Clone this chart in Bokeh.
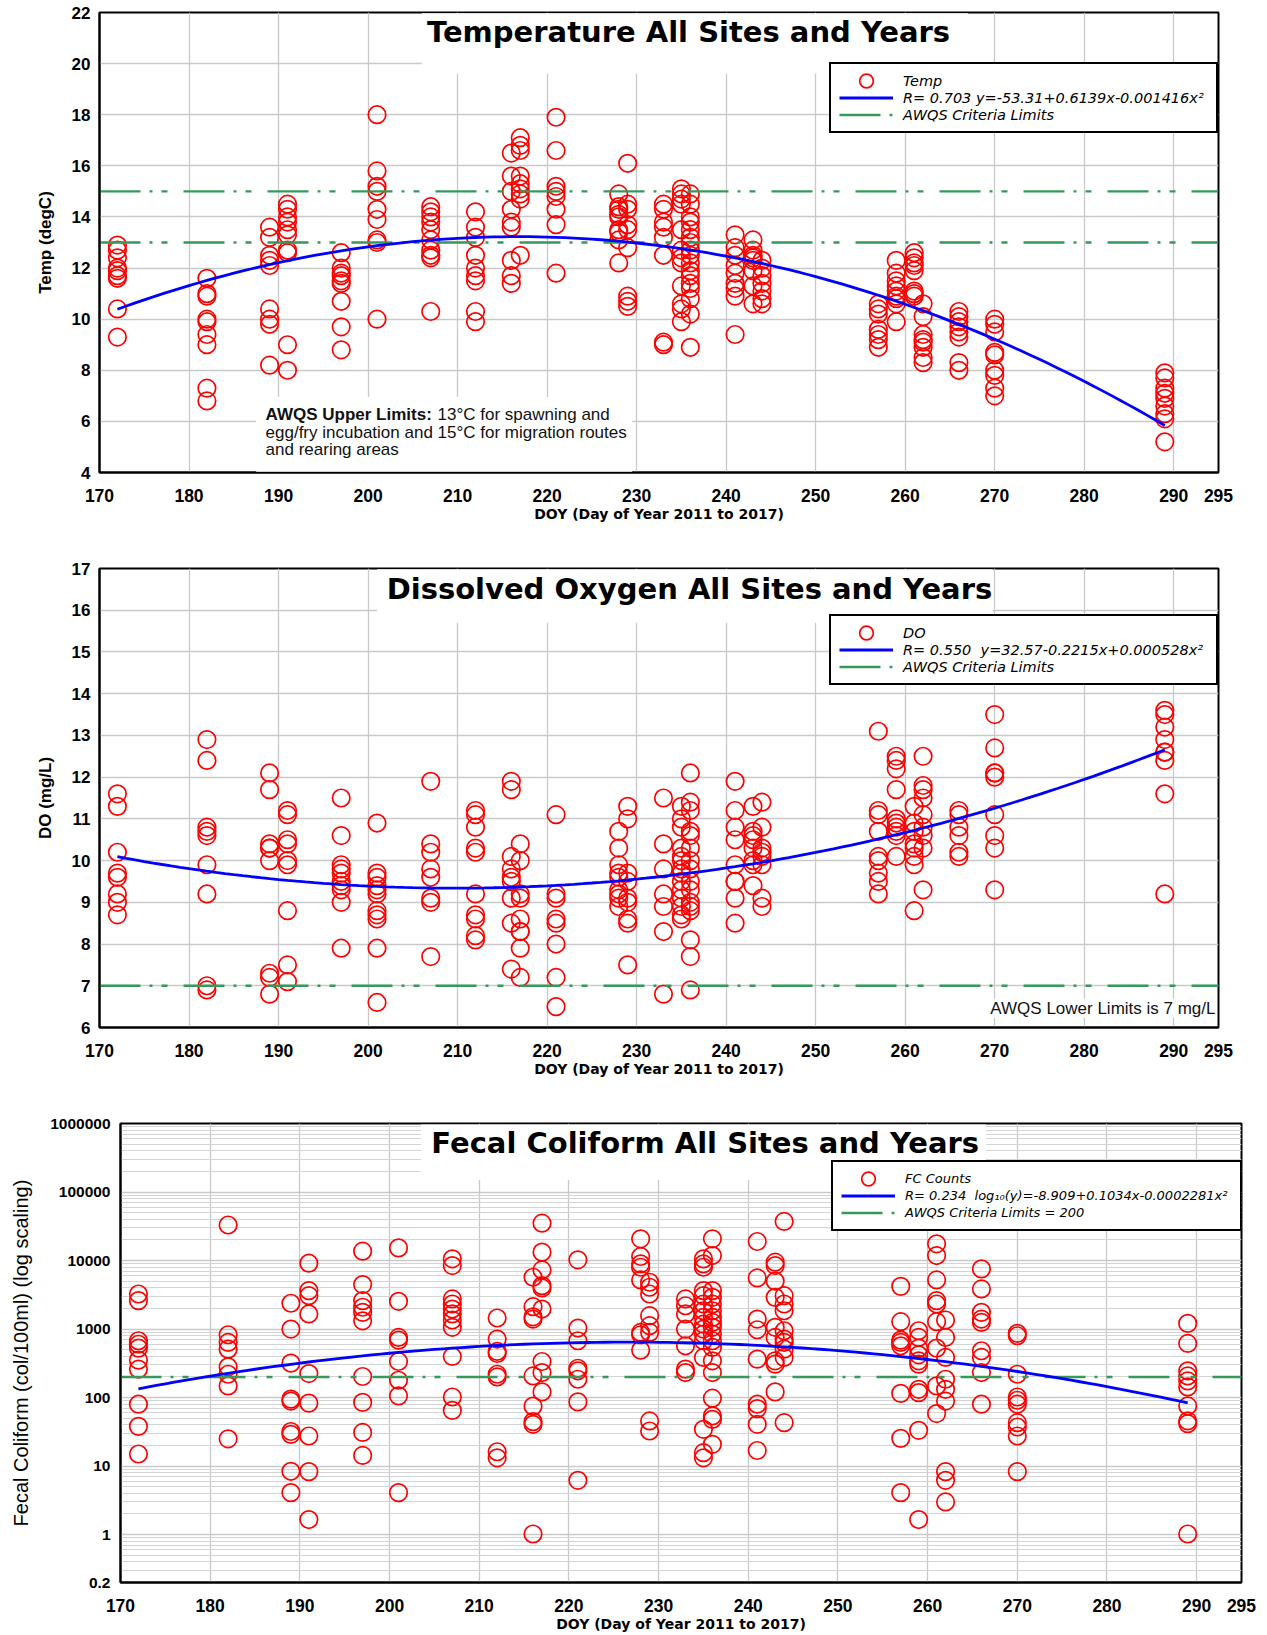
import numpy as np
from bokeh.plotting import figure
from bokeh.models import (Range1d, FixedTicker, Label, BoxAnnotation, Legend,
                          LegendItem, ColumnDataSource, CustomJSTickFormatter)
from bokeh.embed import file_html
from bokeh.resources import INLINE

# ---------------- data ----------------
DAYS = [172, 182, 189, 191, 197, 201, 207, 212, 216, 217, 221, 228, 229,
        233, 235, 236, 241, 243, 244, 257, 259, 261, 262, 266, 270, 289]

TEMP_VALUES = [
    [12.9, 12.7, 12.4, 12.0, 11.9, 11.7, 11.6, 10.4, 9.3],
    [11.6, 11.0, 10.9, 10.0, 9.9, 9.4, 9.0, 7.3, 6.8],
    [13.6, 13.2, 12.5, 12.3, 12.1, 10.4, 10.0, 9.8, 8.2],
    [14.5, 14.3, 14.0, 13.8, 13.5, 13.3, 12.7, 12.6, 9.0, 8.0],
    [12.6, 12.0, 11.8, 11.7, 11.5, 11.4, 10.7, 9.7, 8.8],
    [18.0, 15.8, 15.2, 15.0, 14.3, 13.9, 13.1, 13.0, 10.0],
    [14.4, 14.2, 14.0, 13.8, 13.5, 13.1, 12.7, 12.5, 12.4, 10.3],
    [14.2, 13.6, 13.2, 12.5, 12.0, 11.7, 11.5, 10.3, 9.9],
    [16.5, 15.6, 15.0, 14.3, 13.8, 13.6, 12.3, 11.7, 11.4],
    [17.1, 16.8, 16.6, 15.6, 15.3, 15.1, 14.9, 14.7, 12.5],
    [17.9, 16.6, 15.2, 15.0, 14.8, 14.3, 13.7, 11.8],
    [14.9, 14.4, 14.3, 14.1, 14.0, 13.5, 13.4, 13.1, 12.2],
    [16.1, 14.5, 14.3, 13.7, 13.5, 12.8, 10.9, 10.7, 10.5],
    [14.5, 14.3, 13.8, 13.6, 13.2, 12.5, 9.1, 9.0],
    [15.1, 14.9, 14.7, 14.5, 13.5, 12.7, 12.4, 12.2, 11.3, 10.6, 10.4, 9.9],
    [14.9, 14.5, 14.0, 13.8, 13.5, 13.2, 13.0, 12.7, 12.5, 12.2, 11.9, 11.7,
     11.4, 11.2, 10.8, 10.2, 8.9],
    [13.3, 12.8, 12.5, 12.1, 11.8, 11.4, 11.2, 10.9, 9.4],
    [13.1, 12.7, 12.5, 12.4, 12.3, 11.9, 11.3, 10.6],
    [12.3, 12.0, 11.7, 11.4, 11.1, 10.8, 10.6],
    [10.6, 10.4, 10.2, 9.6, 9.4, 9.2, 8.9],
    [12.3, 11.8, 11.5, 11.3, 11.1, 10.9, 10.8, 10.6, 9.9],
    [12.6, 12.4, 12.2, 12.1, 11.9, 11.1, 11.0, 10.9],
    [10.6, 10.1, 9.4, 9.2, 9.1, 8.9, 8.5, 8.3],
    [10.3, 10.1, 9.9, 9.7, 9.5, 9.3, 8.3, 8.0],
    [10.0, 9.8, 9.5, 8.7, 8.6, 8.0, 7.8, 7.3, 7.0],
    [7.9, 7.7, 7.3, 7.1, 6.9, 6.6, 6.3, 6.1, 5.2],
]

DO_VALUES = [
    [11.6, 11.3, 10.2, 9.7, 9.6, 9.2, 9.0, 8.7],
    [12.9, 12.4, 10.8, 10.7, 10.6, 9.9, 9.2, 7.0, 6.9],
    [12.1, 11.7, 10.4, 10.3, 10.3, 10.0, 7.3, 7.2, 6.8],
    [11.2, 11.1, 10.5, 10.4, 10.0, 9.9, 8.8, 7.5, 7.1],
    [11.5, 10.6, 9.9, 9.8, 9.7, 9.5, 9.4, 9.3, 9.0, 7.9],
    [10.9, 9.7, 9.6, 9.4, 9.3, 9.2, 8.8, 8.7, 8.6, 7.9, 6.6],
    [11.9, 10.4, 10.2, 9.8, 9.6, 9.1, 9.0, 7.7],
    [11.2, 11.1, 10.8, 10.3, 10.2, 9.2, 8.7, 8.6, 8.2, 8.1],
    [11.9, 11.7, 10.1, 9.8, 9.6, 9.5, 9.1, 8.5, 7.4],
    [10.4, 10.0, 9.2, 9.1, 8.6, 8.3, 8.3, 7.9, 7.2],
    [11.1, 9.2, 9.1, 8.6, 8.5, 8.0, 7.2, 6.5],
    [10.7, 10.3, 9.9, 9.7, 9.6, 9.3, 9.2, 9.1, 8.9],
    [11.3, 11.0, 9.7, 9.5, 9.1, 9.0, 8.6, 8.5, 7.5],
    [11.5, 10.4, 9.8, 9.2, 8.9, 8.3, 6.8],
    [11.3, 11.0, 10.8, 10.3, 10.1, 10.0, 9.8, 9.7, 9.5, 9.3, 9.1, 8.9, 8.7, 8.6],
    [12.1, 11.4, 11.2, 10.7, 10.6, 10.3, 10.0, 9.8, 9.5, 9.3, 9.0, 8.9, 8.8,
     8.1, 7.7, 6.9],
    [11.9, 11.2, 10.8, 10.5, 9.9, 9.5, 9.5, 9.1, 8.5],
    [11.3, 10.7, 10.6, 10.5, 10.3, 10.0, 9.9, 9.4],
    [11.4, 10.8, 10.3, 10.2, 10.1, 9.9, 9.1, 8.9],
    [13.1, 11.2, 11.1, 10.7, 10.1, 10.0, 9.7, 9.5, 9.2],
    [12.5, 12.4, 12.2, 11.7, 11.0, 10.9, 10.8, 10.7, 10.6, 10.1],
    [11.3, 10.9, 10.7, 10.4, 10.3, 10.1, 9.9, 8.8],
    [12.5, 11.8, 11.7, 11.5, 11.1, 10.8, 10.6, 10.3, 9.3],
    [11.2, 11.1, 10.8, 10.6, 10.2, 10.1],
    [13.5, 12.7, 12.1, 12.1, 12.0, 11.1, 10.6, 10.3, 9.3],
    [13.6, 13.5, 13.2, 12.9, 12.6, 12.6, 12.4, 11.6, 9.2],
]

FC_VALUES = [
    [3250, 2600, 675, 600, 527, 352, 260, 80, 38, 15],
    [33000, 826, 638, 510, 281, 219, 148, 25],
    [2380, 1000, 318, 95, 89, 32, 29, 8.4, 4.1],
    [9140, 3640, 3070, 1660, 224, 83, 27.5, 8.3, 1.66],
    [13700, 4460, 2600, 2080, 1750, 1320, 203, 85, 31, 14.3],
    [15300, 2540, 755, 690, 336, 179, 106, 4.1],
    [10600, 8450, 2750, 2320, 1960, 1660, 1355, 1060, 398, 102, 65],
    [1450, 714, 471, 440, 219, 200, 16.2, 13.2],
    [5700, 2120, 1510, 1400, 207, 75, 44.6, 40.7, 1.02],
    [35100, 13250, 7290, 4300, 3980, 1960, 336, 232, 121],
    [10240, 1035, 675, 268, 246, 185, 86.5, 6.2],
    [20750, 11450, 8940, 7980, 5210, 893, 826, 493],
    [4820, 4075, 3250, 1567, 1120, 893, 45.6, 32.5],
    [2750, 2190, 1660, 1000, 570, 260, 232],
    [10570, 8940, 7980, 3640, 3070, 2320, 1850, 1480, 1180, 1000, 845, 675,
     385, 34.4, 15.7, 13.2],
    [20750, 11830, 3640, 2900, 2320, 1850, 1480, 1250, 1060, 845, 675, 540,
     344, 232, 98, 54, 48, 20.8],
    [18960, 5570, 1400, 977, 364, 80, 69, 40.7, 16.9],
    [9460, 8450, 4990, 2900, 1060, 755, 344, 308, 121],
    [37200, 3070, 2320, 1850, 945, 714, 638, 510, 385, 43],
    [4200, 1280, 690, 638, 570, 115, 25.4, 4.1],
    [945, 755, 527, 421, 344, 308, 132, 118, 33.3, 1.66],
    [17540, 11830, 5210, 2600, 2320, 1280, 527, 148, 58.4],
    [1355, 755, 385, 185, 132, 89, 8.3, 6.2, 3.0],
    [7550, 3850, 1750, 1400, 1250, 482, 385, 232, 80],
    [865, 798, 219, 102, 91.4, 80, 43, 37.2, 27.5, 8.3],
    [1210, 617, 246, 207, 175, 143, 75.5, 45.6, 41.7, 1.02],
]

# regression coefficients printed in the legends (c0 + c1*x + c2*x^2)
TEMP_FIT = [-53.31, 0.6139, -0.001416]
DO_FIT = [32.57, -0.2215, 0.000528]
FC_LOG10_FIT = [-8.909, 0.1034, -0.0002281]
FIT_SPAN = [172, 289]

TEMP_LIMITS = [13, 15]
DO_LIMITS = [7]
FC_LIMITS = [200]

X_TICKS = [170, 180, 190, 200, 210, 220, 230, 240, 250, 260, 270, 280, 290, 295]
X_GRID = [180, 190, 200, 210, 220, 230, 240, 250, 260, 270, 280, 290]
TEMP_TICKS = [4, 6, 8, 10, 12, 14, 16, 18, 20, 22]
DO_TICKS = [6, 7, 8, 9, 10, 11, 12, 13, 14, 15, 16, 17]
FC_TICKS = [0.2, 1, 10, 100, 1000, 10000, 100000, 1000000]
FC_MINOR = [m * 10.0 ** e for e in range(-1, 6) for m in range(2, 10)
            if 0.2 < m * 10.0 ** e < 1e6]

TITLES = ["Temperature All Sites and Years",
          "Dissolved Oxygen All Sites and Years",
          "Fecal Coliform All Sites and Years"]
X_LABEL = "DOY (Day of Year 2011 to 2017)"
Y_LABELS = ["Temp (degC)", "DO (mg/L)", "Fecal Coliform (col/100ml) (log scaling)"]
TEMP_LEGEND = ["Temp", "R= 0.703 y=-53.31+0.6139x-0.001416x\u00b2", "AWQS Criteria Limits"]
DO_LEGEND = ["DO", "R= 0.550  y=32.57-0.2215x+0.000528x\u00b2", "AWQS Criteria Limits"]
FC_LEGEND = ["FC Counts",
             "R= 0.234  log\u2081\u2080(y)=-8.909+0.1034x-0.0002281x\u00b2",
             "AWQS Criteria Limits = 200"]
TEMP_NOTE_BOLD = "AWQS Upper Limits:"
TEMP_NOTE = ["13\u00b0C for spawning and",
             "egg/fry incubation and 15\u00b0C for migration routes",
             "and rearing areas"]
DO_NOTE = "AWQS Lower Limits is 7 mg/L"

# ---------------- styling ----------------
RED = "#ff0000"
BLUE = "#0000ff"
GREEN = "#35995b"
GRID = "#c9c9c9"
DASH = "41 9 3 9 6 16"
W = 1267


def flatten(days, values):
    xs, ys = [], []
    for d, vals in zip(days, values):
        xs += [d] * len(vals)
        ys += list(vals)
    return xs, ys


def make_fig(height, y_range, left, right, top, bottom, log=False):
    kw = dict(y_axis_type="log") if log else {}
    p = figure(width=W, height=height, x_range=Range1d(X_TICKS[0], X_TICKS[-1]),
               y_range=y_range, output_backend="svg", toolbar_location=None,
               min_border_left=left, min_border_right=right,
               min_border_top=top, min_border_bottom=bottom, **kw)
    p.background_fill_color = "white"
    p.border_fill_color = "white"
    p.outline_line_color = "black"
    p.outline_line_width = 2
    p.outline_line_alpha = 1
    p.xaxis.ticker = FixedTicker(ticks=X_TICKS)
    p.xgrid.ticker = FixedTicker(ticks=X_GRID)
    for ax in (p.xaxis[0], p.yaxis[0]):
        ax.axis_line_color = "black"
        ax.axis_line_width = 2
        ax.major_tick_line_color = None
        ax.minor_tick_line_color = None
        ax.major_tick_out = 0
        ax.major_tick_in = 0
        ax.minor_tick_out = 0
        ax.minor_tick_in = 0
        ax.major_label_text_font = "Liberation Sans"
        ax.major_label_text_font_style = "bold"
        ax.major_label_text_color = "black"
        ax.axis_label_text_color = "black"
    xa = p.xaxis[0]
    xa.major_label_text_font_size = "17.5px"
    xa.major_label_standoff = 16
    xa.axis_label = X_LABEL
    xa.axis_label_text_font = "DejaVu Sans"
    xa.axis_label_text_font_style = "bold"
    xa.axis_label_text_font_size = "14px"
    xa.axis_label_standoff = 1
    p.xgrid.grid_line_color = GRID
    p.xgrid.grid_line_width = 1.3
    p.ygrid.grid_line_color = GRID
    p.ygrid.grid_line_width = 1.3
    return p


def style_y(p, ticker, label, font, style, size, label_size, standoff, label_standoff):
    p.yaxis.ticker = ticker
    ya = p.yaxis[0]
    ya.major_label_text_font_size = size
    ya.major_label_standoff = standoff
    ya.axis_label = label
    ya.axis_label_text_font = font
    ya.axis_label_text_font_style = style
    ya.axis_label_text_font_size = label_size
    ya.axis_label_standoff = label_standoff
    return ya


def add_points_fit_limits(p, ys_vals, fit_x, fit_y, limits):
    xs, ys = flatten(DAYS, ys_vals)
    src = ColumnDataSource(dict(x=xs, y=ys))
    r_pts = p.ellipse(x="x", y="y", width=17.5, height=17.5,
                      width_units="screen", height_units="screen",
                      source=src, fill_color=None, line_color=RED, line_width=1.7)
    r_lim = p.segment(x0=X_TICKS[0], x1=X_TICKS[-1], y0=limits, y1=limits,
                      line_color=GREEN, line_width=2.4, line_dash=DASH)
    r_fit = p.line(fit_x, fit_y, line_color=BLUE, line_width=2.8)
    return r_pts, r_fit, r_lim


def add_legend(p, renderers, labels, loc, font_size, row_h, label_w):
    items = [LegendItem(label=lab, renderers=[r]) for lab, r in zip(labels, renderers)]
    leg = Legend(items=items, location=loc, margin=0, padding=8, spacing=0,
                 glyph_width=54, glyph_height=row_h, label_height=row_h,
                 label_width=label_w, label_standoff=10,
                 border_line_color="black", border_line_width=2.5, border_line_alpha=1,
                 background_fill_color="white", background_fill_alpha=1,
                 label_text_font="DejaVu Sans", label_text_font_style="italic",
                 label_text_font_size=font_size, label_text_color="black")
    p.add_layout(leg)


def add_title(p, text, x, y, box):
    l, r, b, t = box
    p.add_layout(BoxAnnotation(left=l, right=r, bottom=b, top=t, fill_color="white",
                               fill_alpha=1, line_color=None))
    p.add_layout(Label(x=x, y=y, text=text, text_align="center",
                       text_baseline="alphabetic", text_font="DejaVu Sans",
                       text_font_style="bold", text_font_size="29px",
                       text_color="black"))


fit_x = np.linspace(FIT_SPAN[0], FIT_SPAN[1], 118)

# ---------------- panel 1: temperature ----------------
p1 = make_fig(540, Range1d(TEMP_TICKS[0], TEMP_TICKS[-1]), 99, W - 1218, 12, 68)
style_y(p1, FixedTicker(ticks=TEMP_TICKS), Y_LABELS[0], "Liberation Sans", "bold",
        "17px", "17px", 9, 14)
t_fit = TEMP_FIT[0] + TEMP_FIT[1] * fit_x + TEMP_FIT[2] * fit_x ** 2
rs = add_points_fit_limits(p1, TEMP_VALUES, fit_x, t_fit, TEMP_LIMITS)
add_title(p1, TITLES[0], 235.8, 21.22, (206, 267, 19.6, 21.97))
p1.add_layout(BoxAnnotation(left=187.5, right=229.5, bottom=4.03, top=6.95,
                            fill_color="white", fill_alpha=1, line_color=None))
note_ys = [6.28, 5.576, 4.891]
p1.add_layout(Label(x=188.55, y=note_ys[0], text=TEMP_NOTE_BOLD, text_baseline="alphabetic",
                    text_font="Liberation Sans", text_font_style="bold",
                    text_font_size="17px", text_color="#111111"))
p1.add_layout(Label(x=188.55, y=note_ys[0], x_offset=172, text=TEMP_NOTE[0],
                    text_baseline="alphabetic", text_font="Liberation Sans",
                    text_font_size="17px", text_color="#111111"))
for yy, txt in zip(note_ys[1:], TEMP_NOTE[1:]):
    p1.add_layout(Label(x=188.55, y=yy, text=txt, text_baseline="alphabetic",
                        text_font="Liberation Sans", text_font_size="17px",
                        text_color="#111111"))
add_legend(p1, rs, TEMP_LEGEND, (730, 339), "14.5px", 17, 305)

# ---------------- panel 2: dissolved oxygen ----------------
p2 = make_fig(550, Range1d(DO_TICKS[0], DO_TICKS[-1]), 99, W - 1218, 28, 63)
style_y(p2, FixedTicker(ticks=DO_TICKS), Y_LABELS[1], "Liberation Sans", "bold",
        "17px", "17px", 9, 14)
d_fit = DO_FIT[0] + DO_FIT[1] * fit_x + DO_FIT[2] * fit_x ** 2
rs = add_points_fit_limits(p2, DO_VALUES, fit_x, d_fit, DO_LIMITS)
add_title(p2, TITLES[1], 235.9, 16.51, (201, 269.8, 15.7, 16.98))
p2.add_layout(Label(x=X_TICKS[-1], y=6.46, x_offset=-3, text=DO_NOTE, text_align="right",
                    text_baseline="alphabetic", text_font="Liberation Sans",
                    text_font_size="17px", text_color="#111111",
                    background_fill_color="white", background_fill_alpha=1))
add_legend(p2, rs, DO_LEGEND, (730, 342), "14.5px", 17, 305)

# ---------------- panel 3: fecal coliform ----------------
p3 = make_fig(545, Range1d(FC_TICKS[0], FC_TICKS[-1]), 120, W - 1241, 33, 53, log=True)
ya = style_y(p3, FixedTicker(ticks=FC_TICKS, minor_ticks=FC_MINOR), Y_LABELS[2],
             "Liberation Sans", "normal", "15.5px", "20px", 10, 15)
ya.formatter = CustomJSTickFormatter(code="return tick < 1 ? String(tick) : tick.toFixed(0);")
p3.ygrid.minor_grid_line_color = "#d4d4d4"
p3.ygrid.minor_grid_line_width = 1
f_fit = 10 ** (FC_LOG10_FIT[0] + FC_LOG10_FIT[1] * fit_x + FC_LOG10_FIT[2] * fit_x ** 2)
rs = add_points_fit_limits(p3, FC_VALUES, fit_x, f_fit, FC_LIMITS)
add_title(p3, TITLES[2], 235.2, 5.16e5, (203.5, 266.5, 1.5e5, 9.7e5))
add_legend(p3, rs, FC_LEGEND, (711, 351), "13px", 17, 327)

open("out.html", "w").write(file_html([p1, p2, p3], INLINE))
